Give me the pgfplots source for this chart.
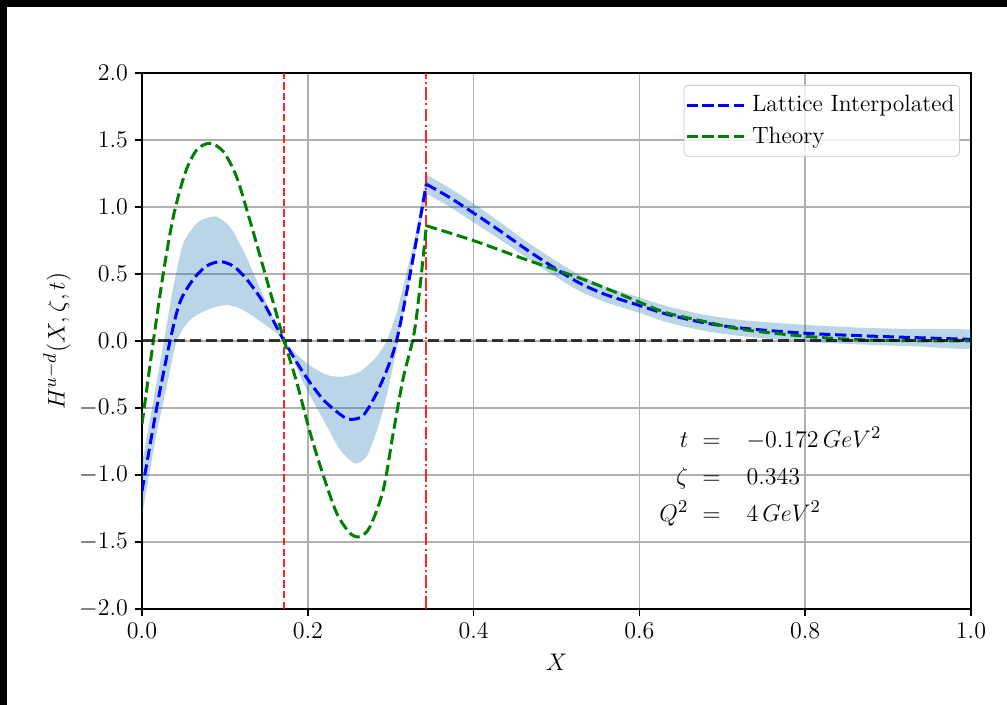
\documentclass[border=0pt]{standalone}
\usepackage{pgfplots}
\pgfplotsset{compat=1.18}
\definecolor{tabblue}{HTML}{1F77B4}
\definecolor{mgreen}{rgb}{0,0.5,0}
\definecolor{gridgray}{HTML}{B0B0B0}
\begin{document}
\begin{tikzpicture}
\useasboundingbox (-71pt,-48pt) rectangle (432.5pt,304.5pt);
\fill[white] (-71pt,-48pt) rectangle (432.5pt,304.5pt);
\fill[black] (-71pt,301pt) rectangle (432.5pt,304.5pt);
\fill[black] (-71pt,-48pt) rectangle (-67.5pt,304.5pt);
\begin{axis}[
  at={(0,0)}, anchor=south west,
  scale only axis, width=414.5pt, height=268pt,
  xmin=0, xmax=1, ymin=-2, ymax=2,
  xtick={0,0.2,0.4,0.6,0.8,1},
  ytick={-2,-1.5,-1,-0.5,0,0.5,1,1.5,2},
  xticklabel style={/pgf/number format/.cd, fixed, fixed zerofill, precision=1},
  yticklabel style={/pgf/number format/.cd, fixed, fixed zerofill, precision=1},
  tick label style={font=\fontsize{11.5}{13}\selectfont},
  tick pos=left, tick align=outside, major tick length=3.5pt,
  every tick/.style={black, line width=0.8pt},
  axis line style={line width=0.8pt},
  grid=major, major grid style={gridgray, line width=0.8pt},
  xlabel={$X$}, ylabel={$H^{u-d}(X,\zeta,t)$},
  label style={font=\fontsize{12.5}{14}\selectfont},
  xlabel style={at={(axis description cs:0.5,-0.0989)}, anchor=center},
  ylabel style={at={(axis description cs:-0.1025,0.5)}, anchor=center},
  legend style={at={(0.9867,0.9776)}, anchor=north east, draw=black!20,
    rounded corners=2pt, fill=white, fill opacity=0.8, text opacity=1,
    row sep=2pt, inner xsep=0.5pt, inner ysep=3pt,
    font=\fontsize{11.8}{13}\selectfont,
    /tikz/every odd column/.append style={column sep=1.5pt}},
  legend cell align=left,
  legend image code/.code={\draw[#1] (0pt,0pt) -- (28.5pt,0pt);},
]
% uncertainty band, left part
\addplot[draw=none, fill=tabblue, fill opacity=0.3, forget plot, smooth, tension=0.4] coordinates {
(0,-0.92) (0.0137,-0.44) (0.0257,-0.03) (0.0378,0.405) (0.0498,0.729)
(0.0659,0.878) (0.078,0.918) (0.090,0.928) (0.106,0.853) (0.122,0.679) (0.138,0.455)
(0.154,0.231) (0.1715,0) (0.199,-0.167) (0.223,-0.254) (0.243,-0.266)
(0.263,-0.229) (0.283,-0.117) (0.295,0) (0.307,0.207) (0.319,0.505)
(0.331,0.828) (0.343,1.24)
(0.343,1.10) (0.331,0.70) (0.319,0.33) (0.309,0) (0.297,-0.36)
(0.285,-0.64) (0.271,-0.863) (0.257,-0.913) (0.239,-0.813) (0.219,-0.59)
(0.195,-0.316) (0.1715,0) (0.146,0.132) (0.122,0.231) (0.102,0.269)
(0.078,0.231) (0.0579,0.157) (0.0418,0) (0.0298,-0.341) (0.0177,-0.689)
(0,-1.30)
} -- cycle;
% uncertainty band, right part
\addplot[draw=none, fill=tabblue, fill opacity=0.3, forget plot, smooth, tension=0.4] coordinates {
(0.343,1.24)
(0.370,1.145) (0.4,1.025) (0.43,0.895) (0.462,0.75) (0.495,0.615)
(0.527,0.495) (0.559,0.405) (0.6,0.325) (0.633,0.26) (0.679,0.195)
(0.725,0.155) (0.8,0.12) (0.864,0.10) (0.933,0.088) (1.0,0.08)
(1.0,-0.055) (0.933,-0.04) (0.864,-0.025) (0.8,-0.005) (0.725,0.035)
(0.679,0.075) (0.633,0.14) (0.6,0.21) (0.559,0.29) (0.527,0.375)
(0.495,0.495) (0.462,0.63) (0.43,0.765) (0.4,0.885) (0.370,1.005)
(0.343,1.10)
} -- cycle;
% red vertical lines
\addplot[red, opacity=0.85, line width=1pt, dash pattern=on 3.7pt off 1.6pt, forget plot]
  coordinates {(0.1715,-2) (0.1715,2)};
\addplot[red, opacity=0.85, line width=1pt, dash pattern=on 6.4pt off 1.6pt on 1pt off 1.6pt, forget plot]
  coordinates {(0.343,-2) (0.343,2)};
% lattice
\addplot[blue, line width=1.5pt, dash pattern=on 5.55pt off 2.4pt, smooth, tension=0.5] coordinates {
(0,-1.12) (0.0177,-0.50) (0.0338,0) (0.0458,0.29) (0.0619,0.46) (0.078,0.56)
(0.095,0.592) (0.111,0.555) (0.127,0.455) (0.147,0.281) (0.1715,0)
(0.195,-0.241) (0.219,-0.44) (0.243,-0.565) (0.253,-0.585) (0.267,-0.555)
(0.283,-0.39) (0.297,-0.19) (0.307,0) (0.319,0.356) (0.331,0.754) (0.343,1.17)
};
\addlegendentry{Lattice Interpolated}
\addplot[blue, line width=1.5pt, dash pattern=on 5.55pt off 2.4pt, smooth, tension=0.5, forget plot] coordinates {
(0.343,1.17) (0.370,1.075) (0.4,0.955) (0.43,0.83) (0.462,0.69) (0.495,0.555)
(0.527,0.435) (0.559,0.347) (0.6,0.265) (0.633,0.2) (0.679,0.135)
(0.725,0.095) (0.8,0.058) (0.864,0.04) (0.933,0.025) (1.0,0.012)
};
% theory
\addplot[mgreen, line width=1.5pt, dash pattern=on 5.55pt off 2.4pt, smooth, tension=0.5] coordinates {
(0,-0.62) (0.0137,0) (0.0257,0.505) (0.0378,0.928) (0.0519,1.251) (0.0659,1.425)
(0.082,1.475) (0.0981,1.413) (0.114,1.226) (0.130,0.903) (0.146,0.555)
(0.162,0.207) (0.1715,0) (0.187,-0.316) (0.203,-0.689) (0.219,-1.01)
(0.235,-1.286) (0.251,-1.435) (0.263,-1.46) (0.275,-1.386) (0.291,-1.112)
(0.303,-0.689) (0.315,-0.28) (0.328,0.05) (0.336,0.44) (0.343,0.86)
};
\addlegendentry{Theory}
\addplot[mgreen, line width=1.5pt, dash pattern=on 5.55pt off 2.4pt, smooth, tension=0.5, forget plot] coordinates {
(0.343,0.86) (0.4,0.749) (0.462,0.61) (0.527,0.472) (0.568,0.372) (0.6,0.29)
(0.633,0.21) (0.679,0.145) (0.725,0.085) (0.8,0.035) (0.864,0.01) (0.93,0.002) (1.0,0.0)
};
% zero line
\addplot[black, opacity=0.75, line width=1.5pt, dash pattern=on 5.55pt off 2.4pt, forget plot]
  coordinates {(0,0) (1,0)};
\node[font=\fontsize{13}{14.5}\selectfont] at (axis cs:0.758,-1.015) {\renewcommand{\arraystretch}{1.28}$\begin{array}{r@{\hspace{7pt}}c@{\hspace{13pt}}l}
t & = & -0.172\,GeV^2\\
\zeta & = & 0.343\\
Q^2 & = & 4\,GeV^2
\end{array}$};
\end{axis}
\end{tikzpicture}
\end{document}
